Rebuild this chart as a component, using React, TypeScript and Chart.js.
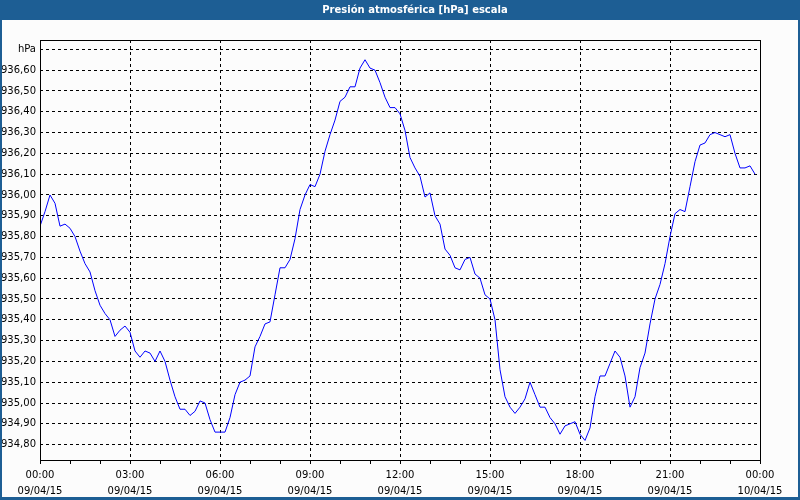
import React, { useEffect, useRef } from 'react';
import { Chart, registerables } from 'chart.js';

Chart.register(...registerables);

const TITLE = 'Presión atmosférica [hPa] escala';
const UNIT_LABEL = 'hPa';

// sampling: one reading every 10 minutes starting 09/04/15 00:00
const STEP_MINUTES = 10;

const pressure = [
  935.85, 935.92, 936.0, 935.96, 935.85, 935.86, 935.84, 935.8, 935.73, 935.67,
  935.63, 935.54, 935.47, 935.43, 935.4, 935.32, 935.35, 935.37, 935.34, 935.25,
  935.22, 935.25, 935.24, 935.2, 935.25, 935.2, 935.11, 935.03, 934.97, 934.97,
  934.94, 934.96, 935.01, 935.0, 934.92, 934.86, 934.86, 934.86, 934.93, 935.04,
  935.1, 935.11, 935.13, 935.27, 935.32, 935.38, 935.39, 935.52, 935.65, 935.65,
  935.69, 935.79, 935.93, 936.0, 936.05, 936.04, 936.1, 936.21, 936.29, 936.36,
  936.45, 936.47, 936.52, 936.52, 936.61, 936.65, 936.61, 936.6, 936.54, 936.47,
  936.42, 936.42, 936.39, 936.31, 936.18, 936.13, 936.09, 935.99, 936.01, 935.9,
  935.86, 935.74, 935.71, 935.65, 935.64, 935.69, 935.7, 935.62, 935.6, 935.52,
  935.5, 935.4, 935.16, 935.03, 934.98, 934.95, 934.98, 935.02, 935.1, 935.04,
  934.98, 934.98, 934.93, 934.9, 934.85, 934.89, 934.9, 934.91, 934.85, 934.82,
  934.88, 935.03, 935.13, 935.13, 935.19, 935.25, 935.22, 935.13, 934.98, 935.03,
  935.17, 935.24, 935.38, 935.5, 935.57, 935.67, 935.8, 935.91, 935.93, 935.92,
  936.04, 936.16, 936.24, 936.25, 936.29, 936.3, 936.29, 936.28, 936.29, 936.2,
  936.13, 936.13, 936.14, 936.1,
];

const xLabelHours = [0, 3, 6, 9, 12, 15, 18, 21, 24];
const xLabelTimes = ['00:00', '03:00', '06:00', '09:00', '12:00', '15:00', '18:00', '21:00', '00:00'];
const xLabelDates = ['09/04/15', '09/04/15', '09/04/15', '09/04/15', '09/04/15', '09/04/15', '09/04/15', '09/04/15', '10/04/15'];
const xMinorHours = [0, 1, 2, 3, 4, 5, 6, 7, 8, 9, 10, 11, 12, 13, 14, 15, 16, 17, 18, 19, 20, 21, 22, 23, 24];

const yTickValues = [
  934.8, 934.9, 935.0, 935.1, 935.2, 935.3, 935.4, 935.5, 935.6, 935.7,
  935.8, 935.9, 936.0, 936.1, 936.2, 936.3, 936.4, 936.5, 936.6, 936.7,
];
const Y_UNIT_TICK = 936.7;
const Y_MIN = 934.726;
const Y_MAX = 936.745;

const FONT = 'DejaVu Sans';
const FRAME_BLUE = '#1D5E94';

const framePlugin = {
  id: 'frame',
  afterDraw(chart: any) {
    const { ctx, chartArea } = chart;
    ctx.save();
    ctx.strokeStyle = '#000';
    ctx.lineWidth = 1;
    ctx.setLineDash([]);
    ctx.strokeRect(
      Math.round(chartArea.left) + 0.5,
      Math.round(chartArea.top) + 0.5,
      Math.round(chartArea.right - chartArea.left),
      Math.round(chartArea.bottom - chartArea.top)
    );
    ctx.restore();
  },
};

export default function App() {
  const canvasRef = useRef<HTMLCanvasElement | null>(null);

  useEffect(() => {
    const canvas = canvasRef.current;
    if (!canvas) return;
    const points = pressure.map((v, i) => ({ x: (i * STEP_MINUTES) / 60, y: v }));
    const chart = new Chart(canvas, {
      type: 'line',
      data: {
        datasets: [
          {
            data: points,
            borderColor: '#0000FF',
            borderWidth: 1,
            pointRadius: 0,
            tension: 0,
            fill: false,
          },
        ],
      },
      options: {
        responsive: false,
        animation: false,
        devicePixelRatio: 1,
        layout: { padding: { left: 2, top: 40, right: 40, bottom: 2 } },
        plugins: {
          legend: { display: false },
          title: { display: false },
          tooltip: { enabled: false },
        },
        scales: {
          x: {
            type: 'linear',
            min: 0,
            max: 24,
            afterBuildTicks: (scale: any) => {
              scale.ticks = xMinorHours.map((h) => ({ value: h }));
            },
            afterFit: (scale: any) => {
              scale.height = 38;
            },
            ticks: {
              autoSkip: false,
              maxRotation: 0,
              minRotation: 0,
              padding: 3,
              color: '#000',
              font: { family: FONT, size: 10, lineHeight: 1.6 },
              callback: (value: any) => {
                const idx = xLabelHours.indexOf(Number(value));
                return idx >= 0 ? [xLabelTimes[idx], xLabelDates[idx]] : '';
              },
            },
            grid: {
              drawTicks: true,
              tickLength: 4,
              tickColor: '#000',
              lineWidth: 1,
              color: (ctx: any) => {
                const v = ctx.tick ? ctx.tick.value : -1;
                return v % 3 === 0 && v !== 0 && v !== 24 ? '#000' : 'rgba(0,0,0,0)';
              },
            },
            border: { display: false, dash: [3, 3] },
          },
          y: {
            type: 'linear',
            min: Y_MIN,
            max: Y_MAX,
            afterBuildTicks: (scale: any) => {
              scale.ticks = yTickValues.map((v) => ({ value: v }));
            },
            afterFit: (scale: any) => {
              scale.width = 38;
            },
            ticks: {
              autoSkip: false,
              padding: 4,
              color: '#000',
              font: { family: FONT, size: 10 },
              callback: (value: any) => {
                const v = Number(value);
                if (Math.abs(v - Y_UNIT_TICK) < 1e-6) return UNIT_LABEL;
                return v.toFixed(2).replace('.', ',');
              },
            },
            grid: {
              drawTicks: false,
              lineWidth: 1,
              color: '#000',
            },
            border: { display: false, dash: [3, 3] },
          },
        },
      },
      plugins: [framePlugin],
    });
    return () => chart.destroy();
  }, []);

  return (
    <div
      style={{
        position: 'fixed',
        left: 0,
        top: 0,
        width: 800,
        height: 500,
        background: FRAME_BLUE,
        overflow: 'hidden',
      }}
    >
      <div
        style={{
          position: 'absolute',
          left: 2,
          top: 20,
          width: 796,
          height: 477,
          background: '#FCFCFC',
        }}
      />
      <canvas
        ref={canvasRef}
        width={800}
        height={500}
        style={{ position: 'absolute', left: 0, top: 0, width: 800, height: 500 }}
      />
      <div
        style={{
          position: 'absolute',
          left: 15,
          top: 0,
          width: 800,
          height: 20,
          lineHeight: '20px',
          textAlign: 'center',
          color: '#FFFFFF',
          fontFamily: FONT,
          fontWeight: 'bold',
          fontSize: 10,
        }}
      >
        {TITLE}
      </div>
    </div>
  );
}
